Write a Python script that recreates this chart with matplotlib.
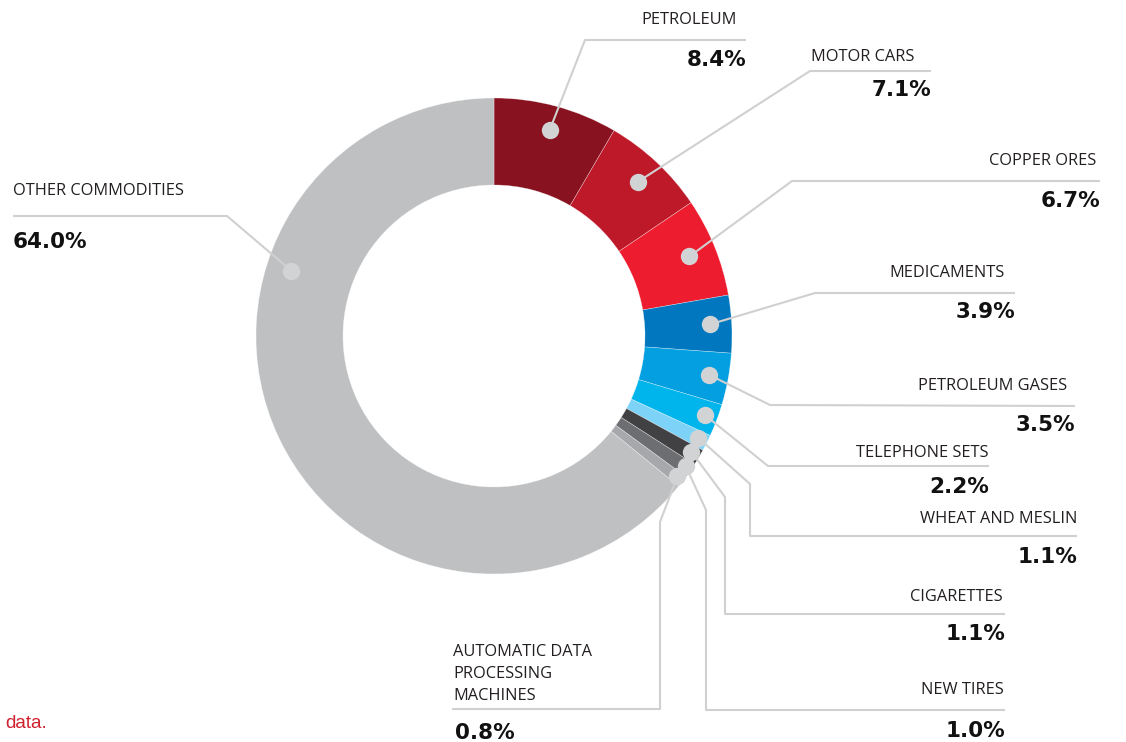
import numpy as np
import matplotlib.pyplot as plt

labels = ['PETROLEUM', 'MOTOR CARS', 'COPPER ORES', 'MEDICAMENTS', 'PETROLEUM GASES',
          'TELEPHONE SETS', 'WHEAT AND MESLIN', 'CIGARETTES', 'NEW TIRES',
          'AUTOMATIC DATA\nPROCESSING\nMACHINES', 'OTHER COMMODITIES']
shares = [8.4, 7.1, 6.7, 3.9, 3.5, 2.2, 1.1, 1.1, 1.0, 0.8, 64.0]
colors = ['#88121F', '#BD1929', '#ED1C2E', '#0077BF', '#049FE0', '#00B4EC',
          '#7DD3F7', '#414143', '#6D6E71', '#A6A8AB', '#BFC0C2']

# layout in pixels (x, y from top-left)
W, H = 1126, 742
cx, cy, r_out, r_in = 494, 336, 238, 151
dot_r = [213, 211, 211, 216, 219, 225, 228, 229, 232, 231, 213]
dot_frac = [0.5] * 10 + [0.69]   # where along each slice the dot sits
leaders = [
    [(585, 40), (746, 40)],
    [(810, 71), (931, 71)],
    [(792, 181), (1100, 181)],
    [(815, 293), (1015, 293)],
    [(770, 405), (1075, 406)],
    [(768, 466), (989, 466)],
    [(750, 484), (750, 536), (1077, 536)],
    [(725, 497), (725, 614), (1005, 614)],
    [(706, 510), (706, 710), (1005, 710)],
    [(660, 522), (660, 709), (452, 709)],
    [(227, 216), (13, 216)],
]
name_pos = [(737, 20), (914, 57), (1096, 161), (1005, 273), (1067, 386), (989, 453),
            (1077, 519), (1003, 597), (1004, 690), (453, 674), (13, 191)]
pct_pos = [(746, 60), (931, 90), (1100, 201), (1015, 312), (1075, 425), (989, 487),
           (1077, 557), (1005, 634), (1005, 731), (455, 733), (13, 242)]
align = ['right'] * 9 + ['left', 'left']

fig = plt.figure(figsize=(W / 100, H / 100), dpi=100)
ax = fig.add_axes([0, 0, 1, 1])

# y axis is flipped below, so startangle -90 puts the first slice at the top, running clockwise
ax.pie(shares, colors=colors, startangle=-90, counterclock=True, center=(cx, cy),
       radius=r_out, wedgeprops=dict(width=r_out - r_in, edgecolor='#FFFFFF80', linewidth=0.4))
ax.set_xlim(0, W)
ax.set_ylim(H, 0)
ax.set_aspect('equal')
ax.axis('off')

starts = np.cumsum(shares) - np.array(shares)
pos = starts + np.array(shares) * np.array(dot_frac)
theta = np.deg2rad(pos / 100 * 360)
for i in range(len(shares)):
    dx = cx + dot_r[i] * np.sin(theta[i])
    dy = cy - dot_r[i] * np.cos(theta[i])
    pts = [(dx, dy)] + leaders[i]
    ax.plot([p[0] for p in pts], [p[1] for p in pts], color='#D0D0D0', lw=1.5,
            solid_capstyle='butt', zorder=3)
    ax.plot(dx, dy, 'o', ms=12.5, color='#D1D3D4', mec='none', zorder=4)
    ax.text(name_pos[i][0], name_pos[i][1], labels[i], ha=align[i], va='center',
            fontsize=11.8, family='Open Sans', color='#231F20', linespacing=1.5)
    ax.text(pct_pos[i][0], pct_pos[i][1], '%.1f%%' % shares[i], ha=align[i], va='center',
            fontsize=15.5, family='DejaVu Sans', weight='bold', color='#111111')

ax.text(5, 724, 'data.', ha='left', va='center', fontsize=13.5, family='Liberation Sans',
        color='#D0202E')

fig.savefig('out.png', dpi=100)
